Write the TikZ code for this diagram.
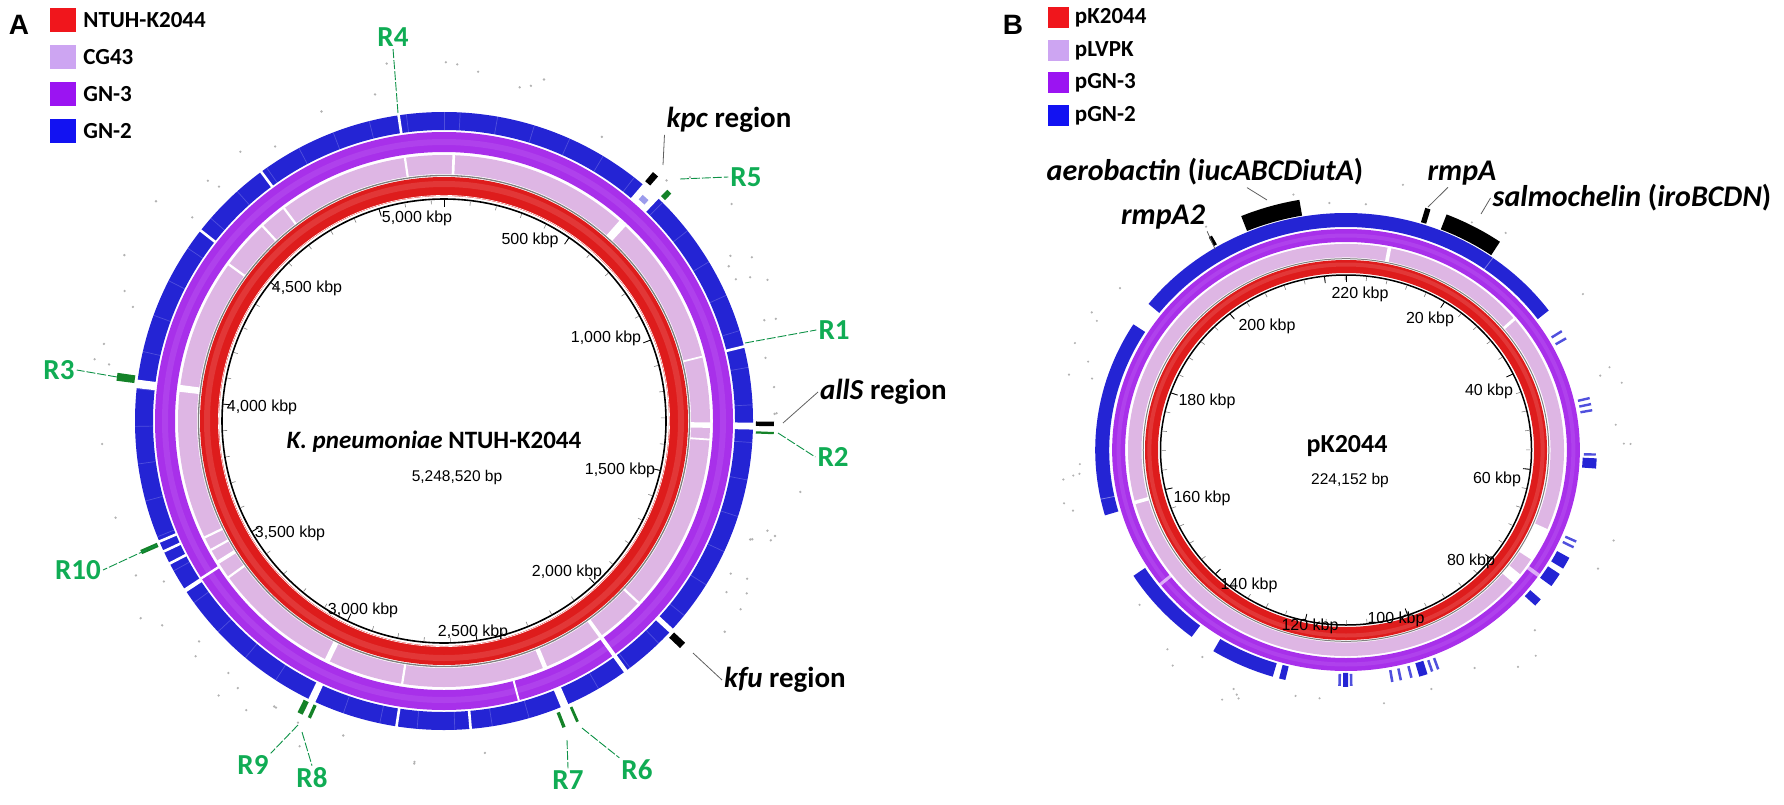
\documentclass[tikz,border=0pt]{standalone}
\usepackage{fontspec}
\setmainfont{Carlito}
\newfontfamily\arialfont{Liberation Sans}
\usetikzlibrary{positioning}

\definecolor{legred}{RGB}{240,22,28}
\definecolor{legpink}{RGB}{205,165,242}
\definecolor{legpurple}{RGB}{155,20,242}
\definecolor{legblue}{RGB}{18,18,242}
\definecolor{ringred}{RGB}{222,28,28}
\definecolor{ringpink}{RGB}{222,182,228}
\definecolor{ringpurple}{RGB}{168,48,234}
\definecolor{ringblue}{RGB}{36,36,212}
\definecolor{rgreen}{RGB}{16,172,84}
\definecolor{featgreen}{RGB}{20,130,40}

% arc of a ring: [style]{cx}{cy}{r}{from}{to}, angles clockwise from top
\newcommand{\ringseg}[6][]{%
  \draw[#1] ({#2+\ovalx*(#4)*sin(#5)},{#3-(#4)*cos(#5)})
    arc[start angle={(#5)-90}, end angle={(#6)-90}, x radius={\ovalx*(#4)}, y radius={#4}];}
% radial stroke: [style]{cx}{cy}{r1}{r2}{angle}
\newcommand{\spoke}[6][]{%
  \draw[#1] ({#2+\ovalx*(#4)*sin(#6)},{#3-(#4)*cos(#6)}) -- ({#2+\ovalx*(#5)*sin(#6)},{#3-(#5)*cos(#6)});}
\def\ovalx{1}

\begin{document}
\begin{tikzpicture}[x=1pt, y=-1pt,
        ticklabel/.style={font=\arialfont\fontsize{16}{18}\selectfont, inner sep=0pt},
        sizelabel/.style={font=\arialfont\fontsize{15.5}{17}\selectfont, inner sep=0pt},
        rlabel/.style={font=\bfseries\fontsize{29}{31}\selectfont, text=rgreen, inner sep=2pt},
        genelabel/.style={font=\bfseries\fontsize{29}{31}\selectfont, inner sep=2pt},
        plasmidlabel/.style={font=\bfseries\fontsize{30}{32}\selectfont, inner sep=2pt},
        panel/.style={font=\arialfont\bfseries\fontsize{28}{30}\selectfont, inner sep=0pt},
        legendtext/.style={font=\bfseries\fontsize{23}{25}\selectfont, inner sep=0pt},
        leader/.style={draw=gray!75!black, line width=0.8pt},
        rleader/.style={draw=rgreen!85!black, line width=0.9pt, dash pattern=on 9pt off 2pt},
        blackbar/.style={draw=black},
        greenbar/.style={draw=featgreen},
        gap/.style={draw=white}
    ]
    \useasboundingbox (0,0) rectangle (1784,805);

    % Panel A legend
    \node[panel] (panelA) at (19,25) {A};
    \node[fill=legred, minimum width=26pt, minimum height=24pt, inner sep=0pt] (keyNTUH) at (63,20) {};
    \node[fill=legpink, minimum width=26pt, minimum height=24pt, inner sep=0pt] (keyCG) at (63,57) {};
    \node[fill=legpurple, minimum width=26pt, minimum height=24pt, inner sep=0pt] (keyGNthree) at (63,94) {};
    \node[fill=legblue, minimum width=26pt, minimum height=24pt, inner sep=0pt] (keyGNtwo) at (63,131) {};
    \node[legendtext, right=7pt of keyNTUH] (txtNTUH) {NTUH-K2044};
    \node[legendtext, right=7pt of keyCG] (txtCG) {CG43};
    \node[legendtext, right=7pt of keyGNthree] (txtGNthree) {GN-3};
    \node[legendtext, right=7pt of keyGNtwo] (txtGNtwo) {GN-2};

    % Panel A rings
    \pgfmathsetseed{11}
    \foreach \i in {1,...,70} {
        \pgfmathsetmacro\dotang{rnd*360}
        \pgfmathsetmacro\dotrad{322+42*rnd}
        \fill[gray!60] ({444+\dotrad*sin(\dotang)},{421-\dotrad*cos(\dotang)}) circle[radius=1.3];
    }
    \draw[ringred, line width=19pt] (444,421) circle[radius=234.5];
    \draw[white!12!ringred, line width=6pt] (444,421) circle[radius=237];
    \draw[white, line width=0.6pt] (444,421) circle[radius=225.6];
    \draw[gray, line width=1.3pt] (444,421) circle[radius=245.5];
    \draw[ringpink, line width=19pt] (444,421) circle[radius=256.5];
    \draw[ringpurple, line width=20pt] (444,421) circle[radius=279];
    \draw[white!8!ringpurple, line width=6pt] (444,421) circle[radius=279];
    \draw[ringblue, line width=18pt] (444,421) circle[radius=300];
    \foreach \ga in {3,10,...,360} {
        \spoke[white, opacity=0.2, line width=0.7pt]{444}{421}{291}{309}{\ga}
    }
    \foreach \ga/\gb in {40/44, 75.8/76.3, 90.3/91.6, 132.2/133.2, 143.6/144.4, 156.3/157.8,
                         174.8/175.3, 188.6/189.1, 204.6/206, 236.4/237.2, 242.3/242.8,
                         244.8/245.3, 246.8/247.3, 276.1/277.7, 307.8/308.3, 323.5/324, 351.3/351.8} {
        \ringseg[gap, line width=20pt]{444}{421}{300}{\ga}{\gb}
    }
    \ringseg[draw=ringblue!45, line width=6pt]{444}{421}{298}{41.3}{42.8}
    \foreach \ga/\gb in {1.8/2.4, 41.2/43, 75.8/76.2, 90.3/91.5, 93.8/94.2, 132.8/133.3, 143.6/144.4,
                         157.2/158.2, 188.8/189.3, 205.4/206.6, 233.8/234.3, 237.6/238.4, 240.8/241.3,
                         243.8/244.3, 276.3/277.8, 305.8/306.3, 316.8/317.3, 322.8/323.3, 351.3/351.8} {
        \ringseg[gap, line width=20pt]{444}{421}{256.5}{\ga}{\gb}
    }
    \foreach \ga/\gb in {143.6/144.4, 164.8/165.2, 236.8/237.3} {
        \ringseg[gap, line width=21pt]{444}{421}{279}{\ga}{\gb}
    }
    \draw[black, line width=1.6pt] (444,421) circle[radius=222];

    % Panel A scale
    \foreach \k in {1,...,52} {
        \spoke[gray, line width=0.6pt]{444}{421}{217}{221}{\k*100/5248.52*360}
    }
    \foreach \k in {0,...,10} {
        \spoke[black, line width=0.8pt]{444}{421}{214}{222}{\k*500/5248.52*360}
    }
    \foreach \t/\x/\y [count=\i] in {5{,}000 kbp/417/218, 500 kbp/530/240, 4{,}500 kbp/307/288,
                                      1{,}000 kbp/606/338, 4{,}000 kbp/262/407, 1{,}500 kbp/620/470,
                                      3{,}500 kbp/290/533, 2{,}000 kbp/567/572, 3{,}000 kbp/363/610,
                                      2{,}500 kbp/473/632} {
        \node[ticklabel] (tickA\i) at (\x,\y) {\t};
    }
    \node[font=\bfseries\fontsize{25}{27}\selectfont] (chromA) at (434,442) {\textit{K. pneumoniae} NTUH-K2044};
    \node[sizelabel] (sizeA) at (457,477) {5,248,520 bp};

    % Panel A features
    \ringseg[blackbar, line width=12pt]{444}{421}{319}{40}{41.2}
    \ringseg[blackbar, line width=18pt]{444}{421}{321}{90.1}{90.9}
    \ringseg[blackbar, line width=15pt]{444}{421}{320}{132.6}{133.9}
    \ringseg[greenbar, line width=9pt]{444}{421}{317}{44}{45}
    \ringseg[greenbar, line width=18pt]{444}{421}{321}{91.9}{92.3}
    \ringseg[greenbar, line width=16pt]{444}{421}{321}{155.8}{156.3}
    \ringseg[greenbar, line width=16pt]{444}{421}{321}{158.3}{158.9}
    \ringseg[greenbar, line width=14pt]{444}{421}{319}{204.1}{204.7}
    \ringseg[greenbar, line width=14pt]{444}{421}{319}{205.7}{206.7}
    \ringseg[greenbar, line width=18pt]{444}{421}{321}{246.2}{247}
    \ringseg[greenbar, line width=18pt]{444}{421}{321}{277}{278.4}

    % Panel A labels
    \node[rlabel] (R4) at (393,37) {R4};
    \node[rlabel] (R5) at (746,177) {R5};
    \node[rlabel] (R1) at (834,330) {R1};
    \node[rlabel] (R2) at (833,457) {R2};
    \node[rlabel] (R6) at (637,770) {R6};
    \node[rlabel] (R7) at (568,780) {R7};
    \node[rlabel] (R8) at (312,778) {R8};
    \node[rlabel] (R9) at (253,765) {R9};
    \node[rlabel] (R10) at (78,570) {R10};
    \node[rlabel] (R3) at (59,370) {R3};
    \node[genelabel] (kpc) at (729,120) {\textit{kpc} region};
    \node[genelabel, anchor=west] (allS) at (818,392) {\textit{allS} region};
    \node[genelabel] (kfu) at (785,680) {\textit{kfu} region};

    \coordinate (mR4) at (398,113);
    \coordinate (mkpc) at (663,165);
    \coordinate (mR5) at (680,179);
    \coordinate (mR1) at (745,343);
    \coordinate (mallS) at (783,423);
    \coordinate (mR2) at (778,433);
    \coordinate (mkfu) at (693,653);
    \coordinate (mR6) at (582,728);
    \coordinate (mR7) at (567,740);
    \coordinate (mR8) at (302,732);
    \coordinate (mR9) at (298,725);
    \coordinate (mR10) at (157,545);
    \coordinate (mR3) at (117,377);
    \draw[rleader] (mR4) -- (R4.south);
    \draw[leader] (mkpc) -- (kpc.south west);
    \draw[rleader] (mR5) -- (R5.west);
    \draw[rleader] (mR1) -- (R1.west);
    \draw[leader] (mallS) -- (allS.west);
    \draw[rleader] (mR2) -- (R2.west);
    \draw[leader] (mkfu) -- (kfu.west);
    \draw[rleader] (mR6) -- (R6.north west);
    \draw[rleader] (mR7) -- (R7.north);
    \draw[rleader] (mR8) -- (R8.north);
    \draw[rleader] (mR9) -- (R9.north east);
    \draw[rleader] (mR10) -- (R10.east);
    \draw[rleader] (mR3) -- (R3.east);

    % Panel B legend
    \node[panel] (panelB) at (1013,25) {B};
    \node[fill=legred, minimum size=21pt, inner sep=0pt] (keyPK) at (1058,18) {};
    \node[fill=legpink, minimum size=21pt, inner sep=0pt] (keyLVPK) at (1058,51) {};
    \node[fill=legpurple, minimum size=21pt, inner sep=0pt] (keyPGNthree) at (1058,83) {};
    \node[fill=legblue, minimum size=21pt, inner sep=0pt] (keyPGNtwo) at (1058,116) {};
    \node[legendtext, right=6pt of keyPK] (txtPK) {pK2044};
    \node[legendtext, right=6pt of keyLVPK] (txtLVPK) {pLVPK};
    \node[legendtext, right=6pt of keyPGNthree] (txtPGNthree) {pGN-3};
    \node[legendtext, right=6pt of keyPGNtwo] (txtPGNtwo) {pGN-2};

    % Panel B rings
    \def\ovalx{1.06}
    \foreach \i in {1,...,45} {
        \pgfmathsetmacro\dotang{rnd*360}
        \pgfmathsetmacro\dotrad{246+32*rnd}
        \fill[gray!60] ({1346+1.06*\dotrad*sin(\dotang)},{450-\dotrad*cos(\dotang)}) circle[radius=1.2];
    }
    \draw[ringred, line width=13pt] (1346,450) ellipse[x radius={1.06*183.5}, y radius=183.5];
    \draw[white!12!ringred, line width=4pt] (1346,450) ellipse[x radius={1.06*185.5}, y radius=185.5];
    \draw[gray, line width=1pt] (1346,450) ellipse[x radius={1.06*191.3}, y radius=191.3];
    \draw[ringpink, line width=13.5pt] (1346,450) ellipse[x radius={1.06*199.3}, y radius=199.3];
    \draw[ringpurple, line width=13pt] (1346,450) ellipse[x radius={1.06*214.5}, y radius=214.5];
    \draw[white!8!ringpurple, line width=4pt] (1346,450) ellipse[x radius={1.06*214.5}, y radius=214.5];
    \foreach \ga/\gb in {11/12, 50.2/51, 112.5/122, 127/130, 254.8/255.8} {
        \ringseg[gap, line width=14.5pt]{1346}{450}{199.3}{\ga}{\gb}
    }
    \foreach \ga/\gb in {124/125, 232.2/233} {
        \ringseg[draw=white, opacity=0.6, line width=14pt]{1346}{450}{214.5}{\ga}{\gb}
    }
    \foreach \ga/\gb in {-52/54, 254/302, 218/238, 197/212, 194/195.5,
                         92/94.5, 117/120, 121.5/125, 129/131, 161/163, 179.5/180.7} {
        \ringseg[draw=ringblue, line width=14pt]{1346}{450}{230}{\ga}{\gb}
    }
    \foreach \ga in {59.5, 61.5, 77, 78.5, 80, 90.8, 112.5, 114, 158, 159.5, 164.5, 167, 169, 178.5, 181.2} {
        \ringseg[draw=ringblue!80, line width=12pt]{1346}{450}{230}{\ga}{\ga+0.6}
    }
    \foreach \ga in {35.8, 258} {
        \spoke[white, opacity=0.4, line width=0.8pt]{1346}{450}{223}{237}{\ga}
    }
    \draw[black, line width=1.5pt] (1346,450) ellipse[x radius={1.06*175}, y radius=175];

    % Panel B scale
    \foreach \k in {1,...,56} {
        \spoke[gray, line width=0.6pt]{1346}{450}{170}{174}{\k*6.424}
    }
    \foreach \k in {0,...,11} {
        \spoke[black, line width=0.8pt]{1346}{450}{168}{175}{\k*32.119}
    }
    \foreach \t/\x/\y [count=\i] in {220 kbp/1360/294, 20 kbp/1430/319, 200 kbp/1267/326,
                                      40 kbp/1489/391, 180 kbp/1207/401, 60 kbp/1497/479,
                                      160 kbp/1202/498, 80 kbp/1471/561, 140 kbp/1249/585,
                                      120 kbp/1310/626, 100 kbp/1396/619} {
        \node[ticklabel] (tickB\i) at (\x,\y) {\t};
    }
    \node[font=\bfseries\fontsize{26}{28}\selectfont] (chromB) at (1347,446) {pK2044};
    \node[sizelabel] (sizeB) at (1350,480) {224,152 bp};

    % Panel B features
    \ringseg[blackbar, line width=16pt]{1346}{450}{246}{-23}{-10}
    \ringseg[blackbar, line width=10pt]{1346}{450}{244}{-31.4}{-30.6}
    \ringseg[blackbar, line width=15pt]{1346}{450}{246}{17.2}{18.4}
    \ringseg[blackbar, line width=16pt]{1346}{450}{246}{22}{35}

    % Panel B labels
    \node[plasmidlabel] (aero) at (1205,172) {\textit{aerobactin} (\textit{iucABCDiutA})};
    \node[plasmidlabel] (rmpAtwo) at (1163,217) {\textit{rmpA2}};
    \node[plasmidlabel] (rmpA) at (1462,173) {\textit{rmpA}};
    \node[plasmidlabel] (salmo) at (1632,198) {\textit{salmochelin} (\textit{iroBCDN})};

    \coordinate (maero) at (1267,200);
    \coordinate (mrmpAtwo) at (1215,249);
    \coordinate (mrmpA) at (1428,207);
    \coordinate (msalmo) at (1481,214);
    \draw[leader] (maero) -- ([xshift=42pt]aero.south);
    \draw[leader] (mrmpAtwo) -- (rmpAtwo.south east);
    \draw[leader] (mrmpA) -- ([xshift=-14pt]rmpA.south);
    \draw[leader] (msalmo) -- (salmo.west);
\end{tikzpicture}
\end{document}
